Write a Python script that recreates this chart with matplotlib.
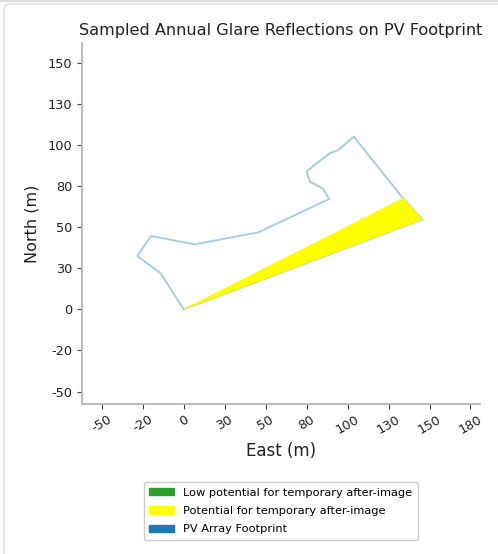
import matplotlib
matplotlib.use("Agg")
import matplotlib.pyplot as plt
from matplotlib.patches import Patch, Polygon, FancyBboxPatch

# footprint outline of the PV array (east, north in metres)
outline_east = [0, -14, -28.3, -19.9, 6.5, 45.5, 88.8, 84.8, 77, 75, 81.1, 89.2, 94.3, 103.8, 133.9, 145.7, 0]
outline_north = [0, 21.9, 32.4, 44.6, 39.5, 46.8, 67.1, 73.6, 77.6, 83.7, 88.8, 94.9, 96.9, 105, 67.5, 54.7, 0]

# area with potential for temporary after-image
glare_east = [0, 133.9, 145.7]
glare_north = [0, 67.5, 54.7]

tick_pos = [-50, -25, 0, 25, 50, 75, 100, 125, 150, 175]
x_labels = ['-50', '-20', '0', '30', '50', '80', '100', '130', '150', '180']
y_tick_pos = [-50, -25, 0, 25, 50, 75, 100, 125, 150]
y_labels = ['-50', '-20', '0', '30', '50', '80', '100', '130', '150']

legend_labels = ['Low potential for temporary after-image',
                 'Potential for temporary after-image',
                 'PV Array Footprint']
legend_colors = ['#2ca02c', '#ffff00', '#1f77b4']

fig = plt.figure(figsize=(4.98, 5.54), dpi=100)

# card border around the figure
card = FancyBboxPatch((4 / 498, -0.05), 1.2, (554 - 4) / 554 + 0.05,
                      boxstyle="round,pad=0,rounding_size=0.012",
                      transform=fig.transFigure, facecolor='white',
                      edgecolor='#dcdcdc', linewidth=1.0, zorder=-10)
fig.patches.append(card)
fig.add_artist(plt.Line2D([0, 1], [1 - 1 / 554, 1 - 1 / 554], transform=fig.transFigure,
                          color='#d8d8d8', linewidth=1.2))

ax = fig.add_axes([81.7 / 498, (554 - 404) / 554, (480 - 81.7) / 498, (404 - 43.3) / 554])
ax.set_facecolor('none')

ax.plot(outline_east, outline_north, color='#a6cee3', linewidth=1.4, zorder=2)
ax.add_patch(Polygon(list(zip(glare_east, glare_north)), closed=True,
                     facecolor='#ffff00', edgecolor='#ffff00', linewidth=0.5, zorder=3))

ax.set_xlim(-62.2, 180.8)
ax.set_ylim(-57.6, 161.8)

ax.set_xticks(tick_pos)
ax.set_xticklabels(x_labels, rotation=30, fontsize=9.3, color='#222222')
ax.set_yticks(y_tick_pos)
ax.set_yticklabels(y_labels, fontsize=9.3, color='#222222')
ax.tick_params(length=3.5, width=0.8, color='#444444', pad=3)

for side in ['top', 'right']:
    ax.spines[side].set_visible(False)
for side in ['left', 'bottom']:
    ax.spines[side].set_color('#b0b0b0')
    ax.spines[side].set_linewidth(1.2)

ax.set_xlabel('East (m)', fontsize=12, color='#222222', labelpad=4)
ax.set_ylabel('North (m)', fontsize=11.5, color='#222222', labelpad=6)
ax.set_title('Sampled Annual Glare Reflections on PV Footprint', fontsize=11.6,
             color='#222222', pad=6)

handles = [Patch(facecolor=c, edgecolor=c) for c in legend_colors]
ax.legend(handles, legend_labels, loc='upper center', bbox_to_anchor=(0.5, -0.201),
          fontsize=8.2, frameon=True, handlelength=2.2, handleheight=0.6,
          borderpad=0.5, labelspacing=0.72, framealpha=1, edgecolor='#cccccc')

fig.savefig('out.png', dpi=100)
